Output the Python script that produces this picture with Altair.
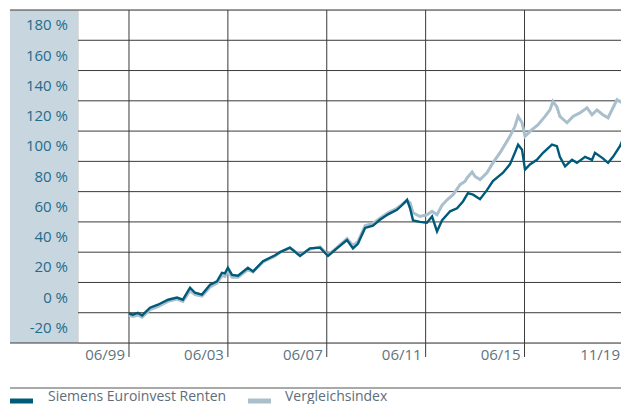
import altair as alt
import pandas as pd

# ---- data ----
fund_years = [1999.50, 1999.66, 1999.86, 2000.03, 2000.35, 2000.67, 2001.08, 2001.44, 2001.68,
              2001.97, 2002.17, 2002.45, 2002.78, 2003.06, 2003.26, 2003.38, 2003.50, 2003.67,
              2003.91, 2004.31, 2004.52, 2004.92, 2005.41, 2005.61, 2006.01, 2006.42, 2006.82,
              2007.23, 2007.55, 2007.91, 2008.32, 2008.56, 2008.76, 2009.05, 2009.37, 2009.65,
              2009.98, 2010.34, 2010.54, 2010.75, 2010.87, 2010.99, 2011.27, 2011.55, 2011.76,
              2011.96, 2012.16, 2012.49, 2012.77, 2013.01, 2013.21, 2013.42, 2013.70, 2013.98,
              2014.22, 2014.63, 2014.91, 2015.11, 2015.24, 2015.40, 2015.52, 2015.72, 2016.00,
              2016.25, 2016.61, 2016.81, 2016.93, 2017.14, 2017.42, 2017.62, 2017.95, 2018.23,
              2018.35, 2018.67, 2018.88, 2019.08, 2019.36, 2019.56, 2019.73, 2019.90]
fund_values = [-0.5, -1.3, 0.0, -1.8, 3.3, 5.3, 8.6, 10.0, 8.6,
               16.5, 13.2, 12.0, 18.5, 20.7, 26.4, 26.0, 29.7, 25.0,
               24.4, 29.7, 27.3, 34.0, 38.0, 40.0, 43.0, 37.5, 42.5,
               43.0, 37.5, 42.5, 48.0, 42.5, 45.5, 56.0, 57.5, 61.4,
               65.0, 68.0, 71.0, 74.6, 69.0, 61.0, 60.0, 59.5, 63.6,
               53.7, 61.0, 67.0, 69.0, 73.5, 79.0, 78.0, 75.0, 81.0,
               87.0, 92.5, 98.0, 105.7, 111.0, 107.7, 94.5, 98.0, 101.0,
               105.7, 111.0, 110.0, 103.0, 96.7, 101.0, 99.0, 103.0, 101.0,
               105.7, 102.0, 99.0, 103.0, 110.0, 117.6, 129.0, 132.0]

index_years = [1999.50, 1999.66, 1999.86, 2000.03, 2000.35, 2000.67, 2001.08, 2001.44, 2001.68,
               2001.97, 2002.17, 2002.45, 2002.78, 2003.06, 2003.26, 2003.38, 2003.50, 2003.67,
               2003.91, 2004.31, 2004.52, 2004.92, 2005.41, 2005.61, 2006.01, 2006.42, 2006.82,
               2007.23, 2007.55, 2007.91, 2008.32, 2008.56, 2008.76, 2009.05, 2009.37, 2009.65,
               2009.98, 2010.34, 2010.54, 2010.75, 2010.87, 2010.99, 2011.27, 2011.55, 2011.76,
               2011.96, 2012.16, 2012.37, 2012.61, 2012.81, 2012.89, 2013.09, 2013.17, 2013.38,
               2013.50, 2013.70, 2013.98, 2014.22, 2014.51, 2014.91, 2015.11, 2015.24, 2015.40,
               2015.52, 2015.80, 2016.04, 2016.33, 2016.53, 2016.65, 2016.81, 2016.93, 2017.22,
               2017.46, 2017.74, 2018.03, 2018.23, 2018.43, 2018.67, 2018.88, 2019.08, 2019.24,
               2019.44, 2019.56, 2019.68, 2019.90]
index_values = [-1.5, -2.5, -1.5, -3.0, 2.0, 4.0, 7.5, 9.0, 7.5,
                14.5, 12.0, 11.0, 17.0, 19.5, 24.5, 24.0, 27.5, 23.5,
                23.5, 28.5, 27.0, 33.5, 37.5, 40.0, 43.0, 38.0, 42.0,
                43.5, 38.0, 43.0, 49.0, 44.5, 47.0, 57.5, 59.0, 62.5,
                66.0, 69.0, 71.5, 74.0, 72.7, 66.0, 63.6, 64.7, 67.0,
                64.7, 71.0, 74.6, 78.0, 82.6, 84.6, 86.7, 89.0, 93.0,
                90.0, 88.0, 92.5, 99.0, 105.7, 116.5, 123.0, 129.7, 125.5,
                116.5, 121.0, 124.0, 129.7, 134.0, 139.6, 136.0, 129.7, 125.5,
                129.7, 132.0, 135.4, 130.8, 134.0, 130.8, 128.8, 135.4, 140.7,
                138.7, 152.0, 160.5, 163.0]

series_names = ["Siemens Euroinvest Renten", "Vergleichsindex"]
series_colors = ["#005a7a", "#a9bfcb"]

y_ticks = [-20, 0, 20, 40, 60, 80, 100, 120, 140, 160, 180]
grid_years = [1999.5, 2003.5, 2007.5, 2011.5, 2015.5, 2019.5]
tick_years = [1999.5, 2003.5, 2007.5, 2011.5, 2015.5]
tick_labels = ["06/99", "06/03", "06/07", "06/11", "06/15"]
last_label = "11/19"

# visible window of the (cropped) reference plot
X_DOMAIN = [1997.437, 2019.403]
Y_DOMAIN = [-20, 200]
W, H = 543, 333
LEFT = -68
FONT = "Open Sans"
GRID = "#3a3a3a"
XLAB_COLOR = "#607380"

xs = alt.Scale(domain=X_DOMAIN, nice=False, zero=False)
ys = alt.Scale(domain=Y_DOMAIN, nice=False, zero=False)

one = pd.DataFrame({"a": [0]})

band = alt.Chart(one).mark_rect(color="#c8d6df").encode(
    x=alt.value(LEFT), x2=alt.value(0), y=alt.value(0), y2=alt.value(H))

hgrid_df = pd.DataFrame({"v": y_ticks[1:]})
hgrid = alt.Chart(hgrid_df).mark_rule(color=GRID, strokeWidth=1).encode(
    x=alt.value(0), x2=alt.value(W), y=alt.Y("v:Q", scale=ys, axis=None))

frame_df = pd.DataFrame({"v": [Y_DOMAIN[0], Y_DOMAIN[1]]})
frame = alt.Chart(frame_df).mark_rule(color=GRID, strokeWidth=1).encode(
    x=alt.value(LEFT), x2=alt.value(W), y=alt.Y("v:Q", scale=ys, axis=None))

vgrid_df = pd.DataFrame({"t": grid_years})
vgrid = alt.Chart(vgrid_df).mark_rule(color=GRID, strokeWidth=1, clip=True).encode(
    x=alt.X("t:Q", scale=xs, axis=None), y=alt.value(0), y2=alt.value(H))

ticks_df = pd.DataFrame({"t": tick_years, "label": tick_labels})
xticks = alt.Chart(ticks_df).mark_rule(color=GRID, strokeWidth=1).encode(
    x=alt.X("t:Q", scale=xs, axis=None), y=alt.value(H), y2=alt.value(H + 14))
xlabels = alt.Chart(ticks_df).mark_text(
    align="right", baseline="middle", dx=-4, font=FONT, fontSize=15, color=XLAB_COLOR
).encode(x=alt.X("t:Q", scale=xs, axis=None), y=alt.value(H + 12), text="label:N")

# last date label: its tick lies just past the cropped right edge, keep the text inside
last_df = pd.DataFrame({"label": [last_label]})
xlabel_last = alt.Chart(last_df).mark_text(
    align="right", baseline="middle", font=FONT, fontSize=15, color=XLAB_COLOR
).encode(x=alt.value(W - 1), y=alt.value(H + 12), text="label:N")

ylab_df = pd.DataFrame({"v": y_ticks, "label": [f"{v} %" for v in y_ticks]})
ylabels = alt.Chart(ylab_df).mark_text(
    align="right", baseline="middle", dy=-15, font=FONT, fontSize=15, color="#256c8b"
).encode(x=alt.value(-10), y=alt.Y("v:Q", scale=ys, axis=None), text="label:N")

idx_df = pd.DataFrame({"t": index_years, "v": index_values})
fund_df = pd.DataFrame({"t": fund_years, "v": fund_values})
idx_line = alt.Chart(idx_df).mark_line(color=series_colors[1], strokeWidth=3, clip=True).encode(
    x=alt.X("t:Q", scale=xs, axis=None), y=alt.Y("v:Q", scale=ys, axis=None))
fund_line = alt.Chart(fund_df).mark_line(color=series_colors[0], strokeWidth=2.4, clip=True).encode(
    x=alt.X("t:Q", scale=xs, axis=None), y=alt.Y("v:Q", scale=ys, axis=None))

sep = alt.Chart(one).mark_rule(color="#555555", strokeWidth=1).encode(
    x=alt.value(LEFT), x2=alt.value(W), y=alt.value(378))

leg_df = pd.DataFrame({
    "name": series_names,
    "sx": [LEFT, 170],
    "sx2": [LEFT + 23, 193],
    "tx": [-30, 207],
})
leg_sw = alt.Chart(leg_df).mark_rule(strokeWidth=5).encode(
    x=alt.X("sx:Q", scale=None), x2="sx2:Q", y=alt.value(391),
    color=alt.Color("name:N", scale=alt.Scale(domain=series_names, range=series_colors), legend=None))
leg_tx = alt.Chart(leg_df).mark_text(
    align="left", baseline="alphabetic", font=FONT, fontSize=14, color="#5d6e79"
).encode(x=alt.X("tx:Q", scale=None), y=alt.value(391), text="name:N")

chart = alt.layer(
    band, hgrid, vgrid, frame, xticks, xlabels, xlabel_last, ylabels,
    idx_line, fund_line, sep, leg_sw, leg_tx
).properties(
    width=W, height=H,
    autosize=alt.AutoSizeParams(type="none"),
    padding={"left": 70, "top": 2, "right": 0, "bottom": 61},
).configure_view(stroke=None).configure(background="white")

chart.save("out.html", embed_options={"renderer": "svg", "actions": False})
